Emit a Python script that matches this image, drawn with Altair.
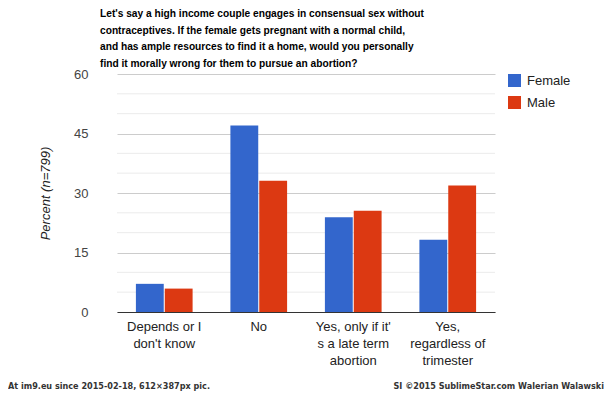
import altair as alt
import pandas as pd

categories = [
    "Depends or I don't know",
    "No",
    "Yes, only if it's a late term abortion",
    "Yes, regardless of trimester",
]
label_lines = [
    ["Depends or I", "don't know"],
    ["No"],
    ["Yes, only if it'", "s a late term", "abortion"],
    ["Yes,", "regardless of", "trimester"],
]
series = ["Female", "Male"]
female = [7.1, 47.0, 23.9, 18.2]
male = [5.9, 33.1, 25.5, 31.9]
colors = ["#3366cc", "#dc3912"]

title_lines = [
    "Let's say a high income couple engages in consensual sex without",
    "contraceptives. If the female gets pregnant with a normal child,",
    "and has ample resources to find it a home, would you personally",
    "find it morally wrong for them to pursue an abortion?",
]
y_title = "Percent (n=799)"
major_ticks = [0, 15, 30, 45, 60]
minor_ticks = [5, 10, 20, 25, 35, 40, 50, 55]
footer_left = "At im9.eu since 2015-02-18, 612×387px pic."
footer_right = "SI ©2015 SublimeStar.com Walerian Walawski"

rows = []
for i, c in enumerate(categories):
    rows.append({"answer": c, "gender": "Female", "pct": female[i]})
    rows.append({"answer": c, "gender": "Male", "pct": male[i]})
df = pd.DataFrame(rows)
minor_df = pd.DataFrame({"v": minor_ticks})

expr = ""
for c, lines in zip(categories, label_lines):
    arr = "[" + ",".join("'" + l.replace("'", "\\'") + "'" for l in lines) + "]"
    expr += "datum.label == '" + c.replace("'", "\\'") + "' ? " + arr + " : "
expr += "datum.label"

FONT = "Liberation Sans"
FOOT = "DejaVu Sans Condensed"

yscale = alt.Scale(domain=[0, 60], nice=False)

bars = alt.Chart(df).mark_bar().encode(
    x=alt.X(
        "answer:N",
        sort=categories,
        scale=alt.Scale(paddingInner=0.4, paddingOuter=0.2),
        axis=alt.Axis(
            title=None, labelAngle=0, labelAlign="center", labelBaseline="top",
            labelExpr=expr, labelFont=FONT, labelFontSize=13,
            labelColor="#222", labelLineHeight=17, labelPadding=8, ticks=False,
            domain=True, domainColor="#333", domainWidth=1, grid=False,
            labelLimit=0,
        ),
    ),
    xOffset=alt.XOffset("gender:N", sort=series,
                        scale=alt.Scale(paddingInner=0.035, paddingOuter=0)),
    y=alt.Y(
        "pct:Q",
        scale=yscale,
        axis=alt.Axis(
            values=major_ticks, grid=True, gridColor="#cccccc", domain=False,
            ticks=False, labelPadding=29, labelFont=FONT, labelFontSize=13,
            labelColor="#444", title=y_title, titleFont=FONT, titleFontSize=13,
            titleFontStyle="italic", titleFontWeight="normal", titleColor="#222",
            titlePadding=21,
        ),
    ),
    color=alt.Color(
        "gender:N",
        sort=series,
        scale=alt.Scale(domain=series, range=colors),
        legend=alt.Legend(
            orient="none", legendX=391, legendY=0, title=None, symbolType="square",
            symbolSize=169, symbolStrokeWidth=0, symbolOpacity=1, labelFont=FONT,
            labelFontSize=13, labelColor="#222", rowPadding=8, labelOffset=6,
            padding=0,
        ),
    ),
)

minor = alt.Chart(minor_df).mark_rule(color="#ebebeb", strokeWidth=1).encode(
    y=alt.Y("v:Q", scale=yscale),
)

fdf = pd.DataFrame({"a": [0]})
title = alt.Chart(fdf).mark_text(
    align="left", baseline="alphabetic", font=FONT, fontSize=10.2,
    fontWeight="bold", color="#000", lineHeight=16.7,
).encode(x=alt.value(-17), y=alt.value(-57), text=alt.value(title_lines))

foot_l = alt.Chart(fdf).mark_text(
    align="left", baseline="middle", font=FOOT, fontSize=9, fontWeight="bold",
    color="#333",
).encode(x=alt.value(-109), y=alt.value(312), text=alt.value(footer_left))
foot_r = alt.Chart(fdf).mark_text(
    align="right", baseline="middle", font=FOOT, fontSize=9, fontWeight="bold",
    color="#333",
).encode(x=alt.value(487), y=alt.value(312), text=alt.value(footer_right))

chart = alt.layer(minor, bars, title, foot_l, foot_r).properties(
    width=378,
    height=238,
    background="white",
    autosize=alt.AutoSizeParams(type="none"),
    padding={"left": 109, "top": 66, "right": 109, "bottom": 79},
).configure_view(strokeWidth=0, stroke="transparent")

chart.save("out.html", embed_options={"renderer": "svg", "actions": False})
